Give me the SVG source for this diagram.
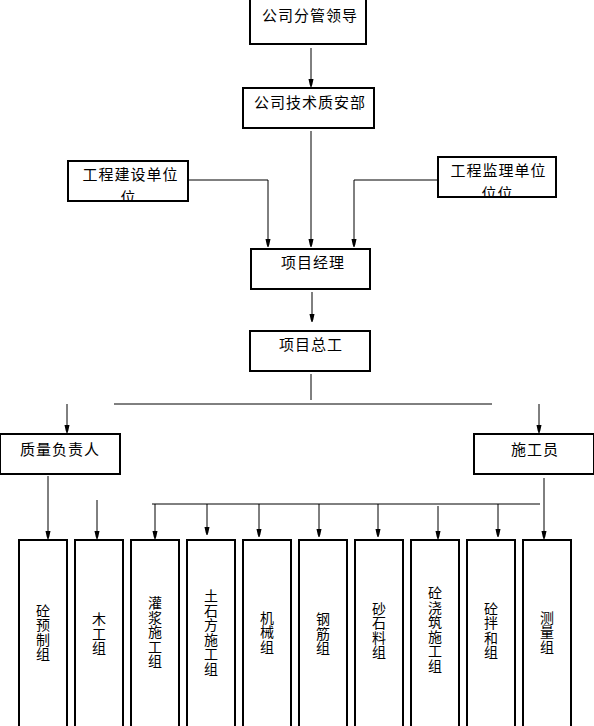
<svg xmlns="http://www.w3.org/2000/svg" width="594" height="726" viewBox="0 0 594 726">
<style>
.box{fill:#fff;stroke:#000;stroke-width:2}
.ln{fill:none;stroke:#000;stroke-width:1}
.t{font-family:"Noto Sans CJK SC","Liberation Sans",sans-serif;font-size:15px;letter-spacing:1px;fill:#000;text-anchor:middle}
.v{font-family:"Noto Sans CJK SC","Liberation Sans",sans-serif;font-size:14px;fill:#000;text-anchor:middle}
</style>
<defs>
<marker id="a" markerWidth="6" markerHeight="10" refX="3" refY="10" orient="0" markerUnits="userSpaceOnUse" viewBox="0 0 6 10">
<path d="M0.5,2 L5.5,2 L4.2,8 L3,10 L1.8,8 Z" fill="#000"/>
</marker>
<clipPath id="c1"><rect x="69" y="162" width="118" height="38"/></clipPath>
<clipPath id="c2"><rect x="439" y="158" width="116" height="38"/></clipPath>
</defs>
<g id="connectors">
<line class="ln" x1="311" y1="48" x2="311" y2="87" marker-end="url(#a)"/>
<line class="ln" x1="311" y1="131" x2="311" y2="247" marker-end="url(#a)"/>
<polyline class="ln" points="188,180 268,180 268,247" marker-end="url(#a)"/>
<polyline class="ln" points="438,180 354,180 354,247" marker-end="url(#a)"/>
<line class="ln" x1="312" y1="292" x2="312" y2="322" marker-end="url(#a)"/>
<line class="ln" x1="311" y1="374" x2="311" y2="400"/>
<line class="ln" x1="114" y1="404" x2="492" y2="404"/>
<line class="ln" x1="67" y1="404" x2="67" y2="433" marker-end="url(#a)"/>
<line class="ln" x1="539" y1="404" x2="539" y2="433" marker-end="url(#a)"/>
<line class="ln" x1="48" y1="476" x2="48" y2="539" marker-end="url(#a)"/>
<line class="ln" x1="97" y1="500" x2="97" y2="539" marker-end="url(#a)"/>
<line class="ln" x1="544" y1="478" x2="544" y2="539" marker-end="url(#a)"/>
<line class="ln" x1="152" y1="504" x2="540" y2="504"/>
<line class="ln" x1="155" y1="504" x2="155" y2="539" marker-end="url(#a)"/>
<line class="ln" x1="207" y1="504" x2="207" y2="535" marker-end="url(#a)"/>
<line class="ln" x1="259" y1="504" x2="259" y2="537" marker-end="url(#a)"/>
<line class="ln" x1="319" y1="504" x2="319" y2="537" marker-end="url(#a)"/>
<line class="ln" x1="378" y1="504" x2="378" y2="537" marker-end="url(#a)"/>
<line class="ln" x1="438" y1="506" x2="438" y2="539" marker-end="url(#a)"/>
<line class="ln" x1="498" y1="504" x2="498" y2="537" marker-end="url(#a)"/>
</g>
<g id="n1"><rect class="box" x="250" y="-1" width="116" height="45"/><text class="t" x="310" y="21">公司分管领导</text></g>
<g id="n2"><rect class="box" x="243" y="88" width="131" height="40"/><text class="t" x="310" y="108">公司技术质安部</text></g>
<g id="n3"><rect class="box" x="68" y="161" width="120" height="40"/><text class="t" x="130.5" y="180">工程建设单位</text><text class="t" x="128.5" y="203" clip-path="url(#c1)">位</text></g>
<g id="n4"><rect class="box" x="438" y="157" width="118" height="40"/><text class="t" x="498.5" y="176">工程监理单位</text><text class="t" x="497.5" y="199" clip-path="url(#c2)">位位</text></g>
<g id="n5"><rect class="box" x="251" y="249" width="119" height="40"/><text class="t" x="313" y="268">项目经理</text></g>
<g id="n6"><rect class="box" x="250" y="331" width="120" height="40"/><text class="t" x="311" y="350">项目总工</text></g>
<g id="n7"><rect class="box" x="0" y="434" width="120" height="40"/><text class="t" x="60" y="455">质量负责人</text></g>
<g id="n8"><rect class="box" x="474" y="434" width="120" height="40"/><text class="t" x="535" y="455">施工员</text></g>
<g id="n9"><rect class="box" x="19" y="540" width="48" height="188"/><text class="v"><tspan x="43" y="615.5">砼</tspan><tspan x="43" y="630">预</tspan><tspan x="43" y="644.5">制</tspan><tspan x="43" y="659">组</tspan></text></g>
<g id="n10"><rect class="box" x="75" y="540" width="48" height="188"/><text class="v"><tspan x="99" y="624">木</tspan><tspan x="99" y="638.5">工</tspan><tspan x="99" y="653">组</tspan></text></g>
<g id="n11"><rect class="box" x="131" y="540" width="48" height="188"/><text class="v"><tspan x="155" y="608">灌</tspan><tspan x="155" y="622.5">浆</tspan><tspan x="155" y="637">施</tspan><tspan x="155" y="651.5">工</tspan><tspan x="155" y="666">组</tspan></text></g>
<g id="n12"><rect class="box" x="187" y="540" width="48" height="188"/><text class="v"><tspan x="211" y="601">土</tspan><tspan x="211" y="615.5">石</tspan><tspan x="211" y="630">方</tspan><tspan x="211" y="644.5">施</tspan><tspan x="211" y="659">工</tspan><tspan x="211" y="673.5">组</tspan></text></g>
<g id="n13"><rect class="box" x="243" y="540" width="48" height="188"/><text class="v"><tspan x="267" y="622.5">机</tspan><tspan x="267" y="637">械</tspan><tspan x="267" y="651.5">组</tspan></text></g>
<g id="n14"><rect class="box" x="299" y="540" width="48" height="188"/><text class="v"><tspan x="323" y="624">钢</tspan><tspan x="323" y="638.5">筋</tspan><tspan x="323" y="653">组</tspan></text></g>
<g id="n15"><rect class="box" x="355" y="540" width="48" height="188"/><text class="v"><tspan x="379" y="613.5">砂</tspan><tspan x="379" y="628">石</tspan><tspan x="379" y="642.5">料</tspan><tspan x="379" y="657">组</tspan></text></g>
<g id="n16"><rect class="box" x="411" y="540" width="48" height="188"/><text class="v"><tspan x="435" y="598">砼</tspan><tspan x="435" y="612.5">浇</tspan><tspan x="435" y="627">筑</tspan><tspan x="435" y="641.5">施</tspan><tspan x="435" y="656">工</tspan><tspan x="435" y="670.5">组</tspan></text></g>
<g id="n17"><rect class="box" x="467" y="540" width="48" height="188"/><text class="v"><tspan x="491" y="613.5">砼</tspan><tspan x="491" y="628">拌</tspan><tspan x="491" y="642.5">和</tspan><tspan x="491" y="657">组</tspan></text></g>
<g id="n18"><rect class="box" x="523" y="540" width="48" height="188"/><text class="v"><tspan x="547" y="622.5">测</tspan><tspan x="547" y="637">量</tspan><tspan x="547" y="651.5">组</tspan></text></g>
</svg>
